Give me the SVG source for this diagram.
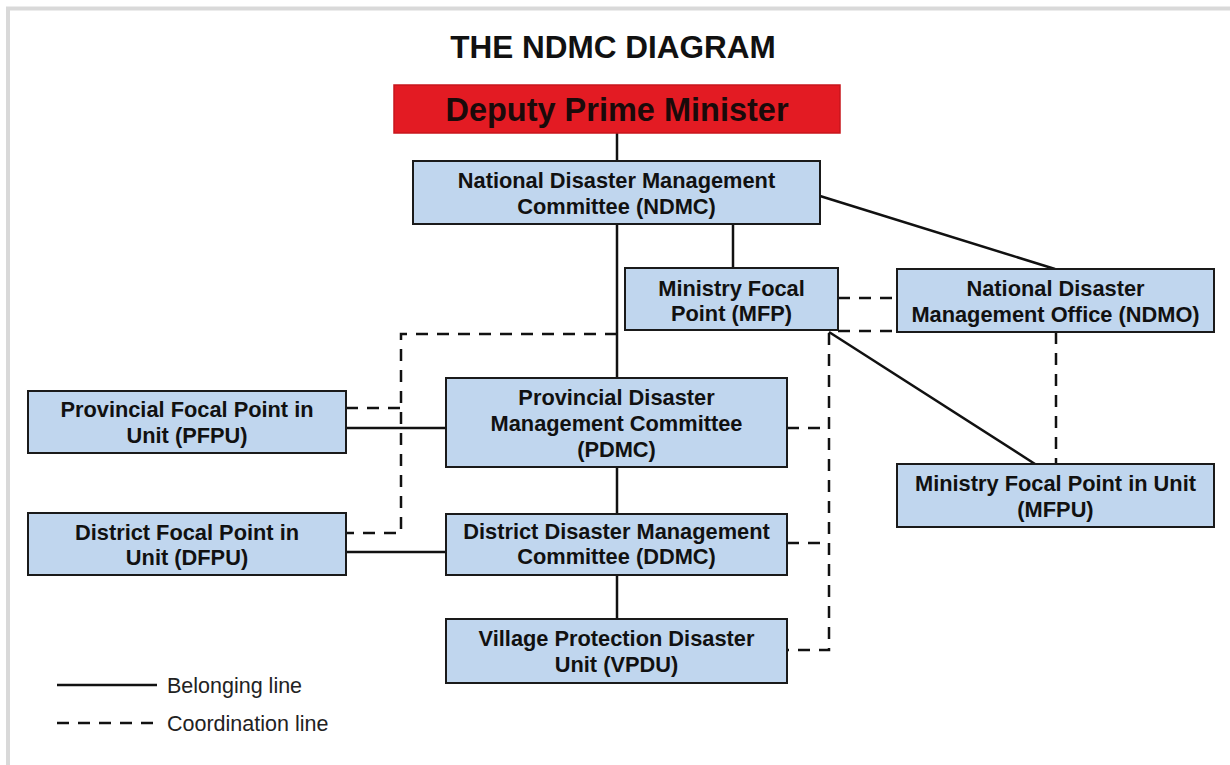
<svg xmlns="http://www.w3.org/2000/svg" width="1230" height="765" viewBox="0 0 1230 765">
<style>
.box{fill:#c0d6ee;stroke:#1a1a1a;stroke-width:2}
.t{font-family:"Liberation Sans",Arial,sans-serif;font-weight:bold;font-size:21.8px;fill:#111;text-anchor:middle}
.s{stroke:#111;stroke-width:2.5;fill:none}
.d{stroke:#111;stroke-width:2.5;fill:none;stroke-dasharray:12 9}
.lg{font-family:"Liberation Sans",Arial,sans-serif;font-size:21.5px;fill:#222}
</style>
<rect x="0" y="0" width="1230" height="765" fill="#fff"/>
<path d="M8 765 V8.5 H1230" fill="none" stroke="#d9d9d9" stroke-width="4"/>
<text x="613" y="58" font-family="Liberation Sans,Arial,sans-serif" font-weight="bold" font-size="31.5" fill="#111" text-anchor="middle">THE NDMC DIAGRAM</text>
<g id="connectors">
<line class="s" x1="617" y1="133" x2="617" y2="161"/>
<line class="s" x1="617" y1="224" x2="617" y2="378"/>
<line class="s" x1="733" y1="224" x2="733" y2="268"/>
<line class="s" x1="820" y1="196" x2="1055" y2="269"/>
<line class="s" x1="829" y1="332" x2="1035" y2="464"/>
<line class="s" x1="617" y1="467" x2="617" y2="514"/>
<line class="s" x1="617" y1="575" x2="617" y2="619"/>
<line class="s" x1="346" y1="428" x2="446" y2="428"/>
<line class="s" x1="346" y1="552" x2="446" y2="552"/>
<line class="d" x1="838" y1="298" x2="897" y2="298"/>
<line class="d" x1="838" y1="331" x2="897" y2="331"/>
<line class="d" x1="1056" y1="332" x2="1056" y2="464"/>
<path class="d" d="M617 334 H401 V533 H346"/>
<line class="d" x1="346" y1="408" x2="401" y2="408"/>
<path class="d" d="M829 333 V650 H787"/>
<line class="d" x1="787" y1="428" x2="829" y2="428"/>
<line class="d" x1="787" y1="543" x2="829" y2="543"/>
</g>
<g id="dpm">
<rect x="394" y="85" width="446" height="48" fill="#e31b23" stroke="#c8161c" stroke-width="1.5"/>
<text x="617" y="121" font-family="Liberation Sans,Arial,sans-serif" font-weight="bold" font-size="32.5" fill="#1a0a0a" text-anchor="middle">Deputy Prime Minister</text>
</g>
<g id="ndmc">
<rect class="box" x="413" y="161" width="407" height="63"/>
<text class="t" x="616.5" y="188">National Disaster Management</text>
<text class="t" x="616.5" y="214">Committee (NDMC)</text>
</g>
<g id="mfp">
<rect class="box" x="625" y="268" width="213" height="62"/>
<text class="t" x="731.5" y="296">Ministry Focal</text>
<text class="t" x="731.5" y="321">Point (MFP)</text>
</g>
<g id="ndmo">
<rect class="box" x="897" y="269" width="317" height="63"/>
<text class="t" x="1055.5" y="296">National Disaster</text>
<text class="t" x="1055.5" y="322">Management Office (NDMO)</text>
</g>
<g id="mfpu">
<rect class="box" x="897" y="464" width="317" height="63"/>
<text class="t" x="1055.5" y="491">Ministry Focal Point in Unit</text>
<text class="t" x="1055.5" y="517">(MFPU)</text>
</g>
<g id="pfpu">
<rect class="box" x="28" y="391" width="318" height="62"/>
<text class="t" x="187" y="417">Provincial Focal Point in</text>
<text class="t" x="187" y="443">Unit (PFPU)</text>
</g>
<g id="dfpu">
<rect class="box" x="28" y="513" width="318" height="62"/>
<text class="t" x="187" y="540">District Focal Point in</text>
<text class="t" x="187" y="565">Unit (DFPU)</text>
</g>
<g id="pdmc">
<rect class="box" x="446" y="378" width="341" height="89"/>
<text class="t" x="616.5" y="405">Provincial Disaster</text>
<text class="t" x="616.5" y="431">Management Committee</text>
<text class="t" x="616.5" y="457">(PDMC)</text>
</g>
<g id="ddmc">
<rect class="box" x="446" y="514" width="341" height="61"/>
<text class="t" x="616.5" y="539">District Disaster Management</text>
<text class="t" x="616.5" y="564">Committee (DDMC)</text>
</g>
<g id="vpdu">
<rect class="box" x="446" y="619" width="341" height="64"/>
<text class="t" x="616.5" y="646">Village Protection Disaster</text>
<text class="t" x="616.5" y="672">Unit (VPDU)</text>
</g>
<g id="legend">
<line class="s" x1="57" y1="685" x2="157" y2="685"/>
<line class="d" x1="57" y1="723" x2="157" y2="723" stroke-dasharray="12 10"/>
<text class="lg" x="167" y="693">Belonging line</text>
<text class="lg" x="167" y="731">Coordination line</text>
</g>
</svg>
